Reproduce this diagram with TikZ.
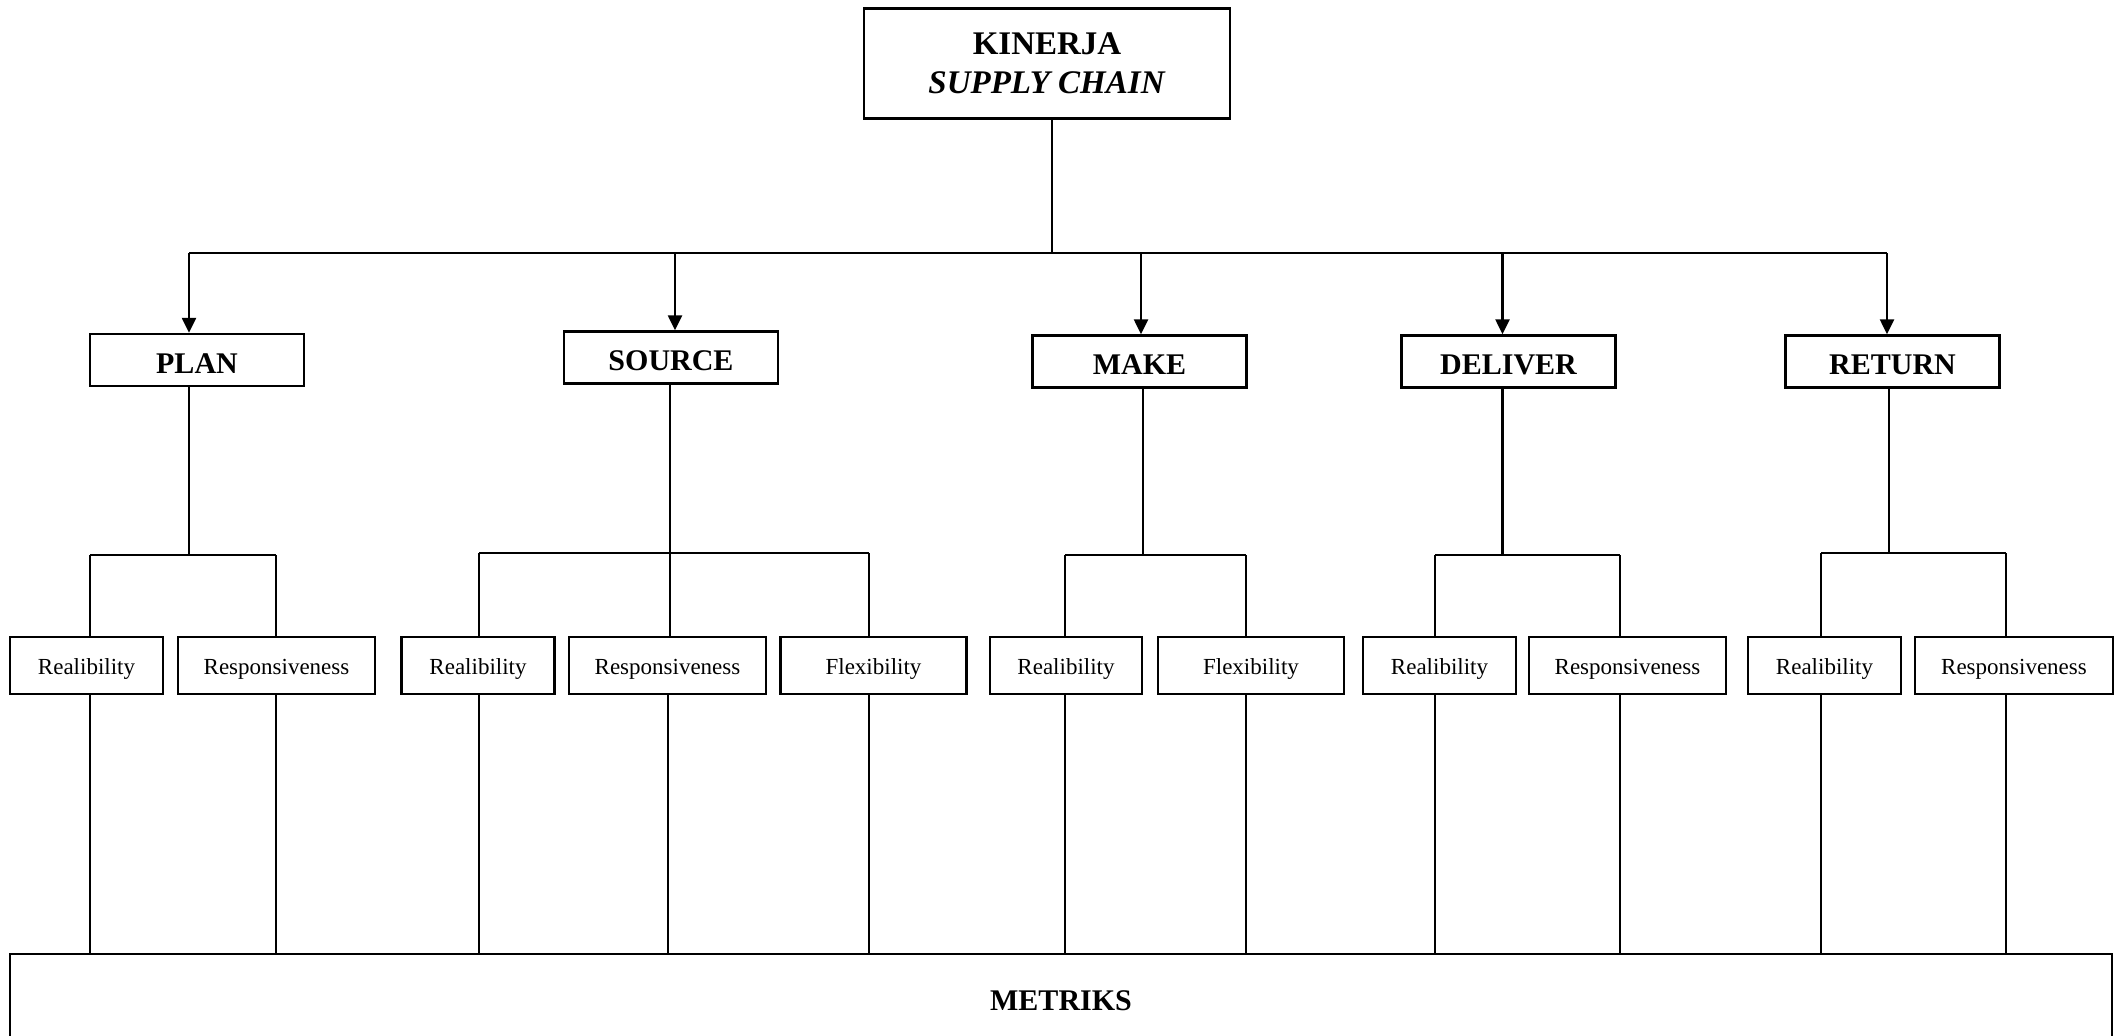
\documentclass[tikz,border=0pt]{standalone}
\usepackage{fontspec}
\setmainfont{Liberation Serif}
\usetikzlibrary{arrows.meta}
\begin{document}
\begin{tikzpicture}[x=0.5pt,y=-0.5pt,line width=1.2pt,
  box/.style={draw,line width=1.2pt,inner sep=0pt,align=center},
  mainbox/.style={box,font=\fontsize{15}{18}\selectfont\bfseries,minimum height=26pt,text height=13pt,text depth=0pt},
  subbox/.style={box,font=\fontsize{11.5}{13}\selectfont,minimum height=28.5pt,text height=9pt,text depth=0pt},
  arr/.style={-{Triangle[length=7.5pt,width=7pt]}}]
\clip (0,0) rectangle (2122,1035);
\useasboundingbox (0,0) rectangle (2122,1035);

% top
\node[box,minimum width=183pt,minimum height=55pt,font=\fontsize{16.5}{19.5}\selectfont\bfseries] (top) at (1047,63.5) {KINERJA\\\textit{SUPPLY CHAIN}};

% main boxes
\node[mainbox,minimum width=107pt] (plan) at (197,360) {PLAN};
\node[mainbox,minimum width=107pt] (source) at (671,357.5) {SOURCE};
\node[mainbox,minimum width=107pt] (make) at (1139.5,361.5) {MAKE};
\node[mainbox,minimum width=107pt] (deliver) at (1508.5,361.5) {DELIVER};
\node[mainbox,minimum width=107pt] (return) at (1892.5,361.5) {RETURN};

% sub boxes
\node[subbox,minimum width=76.5pt] (p1) at (86.5,665.5) {Realibility};
\node[subbox,minimum width=98.5pt] (p2) at (276.5,665.5) {Responsiveness};
\node[subbox,minimum width=76.5pt] (s1) at (478,665.5) {Realibility};
\node[subbox,minimum width=98.5pt] (s2) at (667.5,665.5) {Responsiveness};
\node[subbox,minimum width=93pt] (s3) at (873.5,665.5) {Flexibility};
\node[subbox,minimum width=76pt] (m1) at (1066,665.5) {Realibility};
\node[subbox,minimum width=93pt] (m2) at (1251,665.5) {Flexibility};
\node[subbox,minimum width=76.5pt] (d1) at (1439.5,665.5) {Realibility};
\node[subbox,minimum width=98.5pt] (d2) at (1627.5,665.5) {Responsiveness};
\node[subbox,minimum width=76.5pt] (r1) at (1824.5,665.5) {Realibility};
\node[subbox,minimum width=99pt] (r2) at (2014,665.5) {Responsiveness};

% metriks
\node[box,minimum width=1051pt,minimum height=44pt,font=\fontsize{15}{18}\selectfont\bfseries,text height=12.5pt,text depth=0pt] (met) at (1061,998) {METRIKS};

% top bus
\coordinate (bus) at (1052,253);
\coordinate (aP) at (189,253);
\coordinate (aS) at (675,253);
\coordinate (aM) at (1141,253);
\coordinate (aD) at (1502.5,253);
\coordinate (aR) at (1887,253);
\draw (bus |- top.south) -- (bus);
\draw (aP) -- (aR);
\draw[arr] (aP) -- (aP |- plan.north);
\draw[arr] (aS) -- (aS |- source.north);
\draw[arr] (aM) -- (aM |- make.north);
\draw[arr] (aD) -- (aD |- deliver.north);
\draw[arr] (aR) -- (aR |- return.north);

% PLAN branch
\coordinate (pj) at (189,555);
\coordinate (pL) at (90,555);
\coordinate (pR) at (276,555);
\draw (pj |- plan.south) -- (pj);
\draw (pL) -- (pR);
\draw (pL) -- (pL |- p1.north);
\draw (pR) -- (pR |- p2.north);
\draw (pL |- p1.south) -- (pL |- met.north);
\draw (pR |- p2.south) -- (pR |- met.north);

% SOURCE branch
\coordinate (sj) at (670,553);
\coordinate (sL) at (479,553);
\coordinate (sR) at (869,553);
\coordinate (sM) at (668,553);
\draw (sj |- source.south) -- (sj |- s2.north);
\draw (sL) -- (sR);
\draw (sL) -- (sL |- s1.north);
\draw (sR) -- (sR |- s3.north);
\draw (sL |- s1.south) -- (sL |- met.north);
\draw (sM |- s2.south) -- (sM |- met.north);
\draw (sR |- s3.south) -- (sR |- met.north);

% MAKE branch
\coordinate (mj) at (1143,555);
\coordinate (mL) at (1065,555);
\coordinate (mR) at (1246,555);
\draw (mj |- make.south) -- (mj);
\draw (mL) -- (mR);
\draw (mL) -- (mL |- m1.north);
\draw (mR) -- (mR |- m2.north);
\draw (mL |- m1.south) -- (mL |- met.north);
\draw (mR |- m2.south) -- (mR |- met.north);

% DELIVER branch
\coordinate (dj) at (1502.5,555);
\coordinate (dL) at (1435,555);
\coordinate (dR) at (1620,555);
\draw (dj |- deliver.south) -- (dj);
\draw (dL) -- (dR);
\draw (dL) -- (dL |- d1.north);
\draw (dR) -- (dR |- d2.north);
\draw (dL |- d1.south) -- (dL |- met.north);
\draw (dR |- d2.south) -- (dR |- met.north);

% RETURN branch
\coordinate (rj) at (1889,553);
\coordinate (rL) at (1821,553);
\coordinate (rR) at (2006,553);
\draw (rj |- return.south) -- (rj);
\draw (rL) -- (rR);
\draw (rL) -- (rL |- r1.north);
\draw (rR) -- (rR |- r2.north);
\draw (rL |- r1.south) -- (rL |- met.north);
\draw (rR |- r2.south) -- (rR |- met.north);
\end{tikzpicture}
\end{document}
